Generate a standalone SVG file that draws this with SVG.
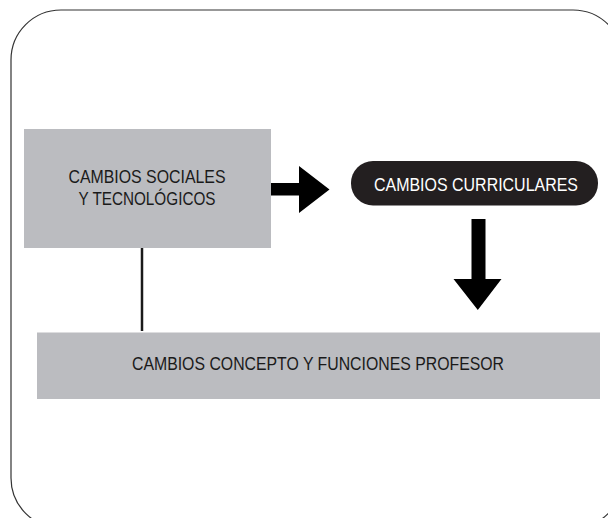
<svg xmlns="http://www.w3.org/2000/svg" width="608" height="518" viewBox="0 0 608 518">
  <style>
    .lbl { font-family: "Liberation Sans", Arial, sans-serif; font-size: 18.5px; fill: #1a1a1a; text-anchor: middle; }
    .box { fill: #bbbcc0; }
    .arrow { fill: #000000; }
  </style>
  <rect x="0" y="0" width="608" height="518" fill="#ffffff"/>
  <rect id="frame" x="11" y="10" width="612" height="518" rx="50" ry="50" fill="none" stroke="#333333" stroke-width="1.2"/>

  <g id="connectors">
    <line x1="142" y1="247" x2="142" y2="331" stroke="#1a1a1a" stroke-width="2.5"/>
    <polygon class="arrow" points="271,183 299,183 299,166 329.5,189.5 299,213 299,195.5 271,195.5"/>
    <polygon class="arrow" points="471.5,219 485.5,219 485.5,279 501.5,279 477.8,310 453.5,279 471.5,279"/>
  </g>

  <g id="node-sociales">
    <rect class="box" x="24" y="129" width="247" height="119"/>
    <text class="lbl" x="147" y="183" textLength="157" lengthAdjust="spacingAndGlyphs">CAMBIOS SOCIALES</text>
    <text class="lbl" x="147" y="205" textLength="137" lengthAdjust="spacingAndGlyphs">Y TECNOLÓGICOS</text>
  </g>

  <g id="node-curriculares">
    <rect x="351" y="161" width="247" height="44.5" rx="22" ry="22" fill="#231f20"/>
    <text class="lbl" x="476" y="191" style="fill:#ffffff" textLength="204" lengthAdjust="spacingAndGlyphs">CAMBIOS CURRICULARES</text>
  </g>

  <g id="node-profesor">
    <rect class="box" x="37" y="332.5" width="563" height="66.5"/>
    <text class="lbl" x="318" y="370" textLength="372" lengthAdjust="spacingAndGlyphs">CAMBIOS CONCEPTO Y FUNCIONES PROFESOR</text>
  </g>
</svg>
